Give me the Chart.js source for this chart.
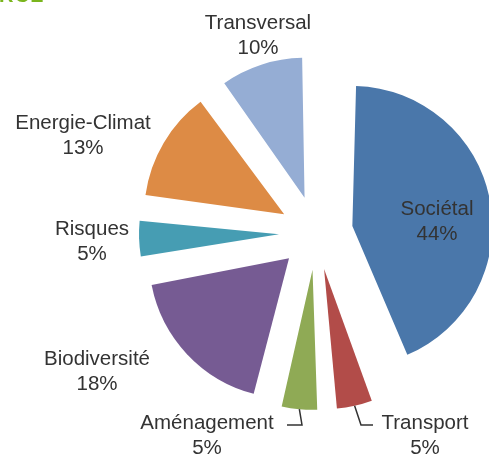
<!DOCTYPE html>
<html>
<head>
<meta charset="utf-8">
<script src="https://cdn.jsdelivr.net/npm/chart.js@4.4.1/dist/chart.umd.min.js"></script>
<style>
html,body{margin:0;padding:0;background:#fff;overflow:hidden}
#wrap{position:relative;width:489px;height:457px}
#cut{position:absolute;left:-1px;top:-16px;line-height:20px;height:20px;font:bold 20px "Liberation Sans",Arial,sans-serif;color:#7ab51d;letter-spacing:1px}
</style>
</head>
<body>
<div id="wrap">
<div id="cut">ROZ</div>
<canvas id="pie"></canvas>
</div>
<script>
// ── DATA ──
const labels=['Sociétal','Transport','Aménagement','Biodiversité','Risques','Energie-Climat','Transversal'];
const values=[44,5,5,18,5,13,10];
const colors=['#4a77aa','#b24c49','#8faa55','#765b93','#469db3','#dd8b45','#95add4'];

// label anchor (block centre) relative to pie centre, px
const labelPos=[[121,-11],[109,203],[-109,203],[-219,139],[-224,9],[-233,-97],[-58,-197]];
// leader lines: [elbow dx,dy],[end dx,dy] relative to pie centre
const leaders={1:[[45,192],[57,192]],2:[[-14,192],[-29,192]]};

const RADIUS=140;
const EXPLODE=37; // visible shift of each slice, px
const FONT='20.5px "Liberation Sans", Arial, sans-serif';
const LINE_H=25;

// Chart.js translates an arc by offset/4 and also grows its radius by offset/4*(1-sin(circ));
// undo the growth so all slices keep the same radius
const explodeFix={
  id:'explodeFix',
  afterUpdate(chart){
    chart.getDatasetMeta(0).data.forEach(arc=>{
      const fix=1-Math.sin(Math.min(Math.PI,arc.circumference||0));
      arc.outerRadius=RADIUS-EXPLODE*fix;
    });
  }
};

const labelPlugin={
  id:'sliceLabels',
  afterDraw(chart){
    const ctx=chart.ctx;
    const meta=chart.getDatasetMeta(0);
    ctx.save();
    meta.data.forEach((arc,i)=>{
      if(!leaders[i])return;
      const cx=arc.x,cy=arc.y;
      const mid=(arc.startAngle+arc.endAngle)/2;
      const rr=RADIUS+EXPLODE;
      const ox=cx+Math.cos(mid)*rr,oy=cy+Math.sin(mid)*rr;
      const [e,f]=leaders[i];
      ctx.strokeStyle='#333';ctx.lineWidth=1.5;
      ctx.beginPath();ctx.moveTo(ox,oy);ctx.lineTo(cx+e[0],cy+e[1]);ctx.lineTo(cx+f[0],cy+f[1]);ctx.stroke();
    });
    const ca=chart.chartArea;
    const pcx=(ca.left+ca.right)/2,pcy=(ca.top+ca.bottom)/2;
    ctx.font=FONT;ctx.fillStyle='#333';ctx.textAlign='center';ctx.textBaseline='middle';
    labels.forEach((l,i)=>{
      const [dx,dy]=labelPos[i];
      ctx.fillText(l,pcx+dx,pcy+dy-LINE_H/2);
      ctx.fillText(values[i]+'%',pcx+dx,pcy+dy+LINE_H/2);
    });
    ctx.restore();
  }
};

new Chart(document.getElementById('pie'),{
  type:'pie',
  data:{labels,datasets:[{data:values,backgroundColor:colors,borderWidth:0,offset:EXPLODE*4,hoverOffset:0,radius:RADIUS}]},
  options:{responsive:true,maintainAspectRatio:false,animation:false,
    layout:{padding:{left:143,top:9,right:0,bottom:0}},
    plugins:{legend:{display:false},tooltip:{enabled:false}},
    events:[]},
  plugins:[explodeFix,labelPlugin]
});
</script>
</body>
</html>
